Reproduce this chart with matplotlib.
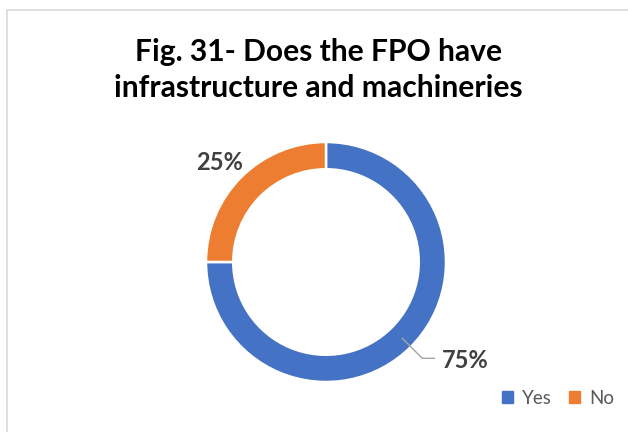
import numpy as np
import matplotlib
matplotlib.use("Agg")
import matplotlib.pyplot as plt
from matplotlib.patches import Rectangle

# Survey responses
categories = ["Yes", "No"]
shares = [75, 25]
colors = ["#4472C4", "#ED7D31"]
title = "Fig. 31- Does the FPO have\ninfrastructure and machineries"

plt.rcParams["font.family"] = ["Lato", "DejaVu Sans"]

W, H = 628, 432
fig = plt.figure(figsize=(W / 100, H / 100), dpi=100)

# light chart border
fig.patches.append(Rectangle((7 / W, -0.05), 1.2, (422 / H) + 0.05,
                             transform=fig.transFigure, fill=False,
                             edgecolor="#D9D9D9", linewidth=1.2))

# donut axes: centre (326, 262) px, outer radius 119 px
R = 119
cx, cy = 326, 262
half = 150
ax = fig.add_axes([(cx - half) / W, (H - cy - half) / H, 2 * half / W, 2 * half / H])
lim = half / R
ax.set_xlim(-lim, lim)
ax.set_ylim(-lim, lim)
ax.set_aspect("equal")
ax.axis("off")

wedges, _ = ax.pie(shares, colors=colors, startangle=90, counterclock=False,
                   radius=1.0, wedgeprops=dict(width=0.227, edgecolor="white", linewidth=1.8))

total = sum(shares)
start = 90.0
for w, v in zip(wedges, shares):
    span = 360.0 * v / total
    mid = np.deg2rad(start - span / 2)
    start -= span
    label = f"{v / total * 100:.0f}%"
    if v == max(shares):
        p0 = (0.9 * np.cos(mid), 0.9 * np.sin(mid))
        p1 = (1.135 * np.cos(mid), 1.135 * np.sin(mid))
        p2 = (p1[0] + 0.1, p1[1])
        ax.plot([p0[0], p1[0], p2[0]], [p0[1], p1[1], p2[1]], color="#A6A6A6",
                linewidth=1.0, clip_on=False)
        ax.text(p2[0] + 0.06, p2[1] - 0.02, label, ha="left", va="center",
                fontsize=17, fontweight="bold", color="#404040")
    else:
        ax.text(1.2 * np.cos(mid) - 0.04, 1.2 * np.sin(mid) - 0.02, label, ha="center", va="center",
                fontsize=17, fontweight="bold", color="#404040")

fig.text(0.507, 1 - 70 / H, title, ha="center", va="center", fontsize=21.6,
         fontweight="bold", color="black", linespacing=1.33)

handles = [plt.Rectangle((0, 0), 1, 1, color=c) for c in colors]
fig.legend(handles, categories, loc="center", bbox_to_anchor=(558 / W, 1 - 398 / H),
           ncol=2, frameon=False, fontsize=13.5, handlelength=0.6, handleheight=0.6,
           handletextpad=0.5, columnspacing=0.9, labelcolor="#595959")

fig.savefig("out.png", dpi=100, facecolor="white")
